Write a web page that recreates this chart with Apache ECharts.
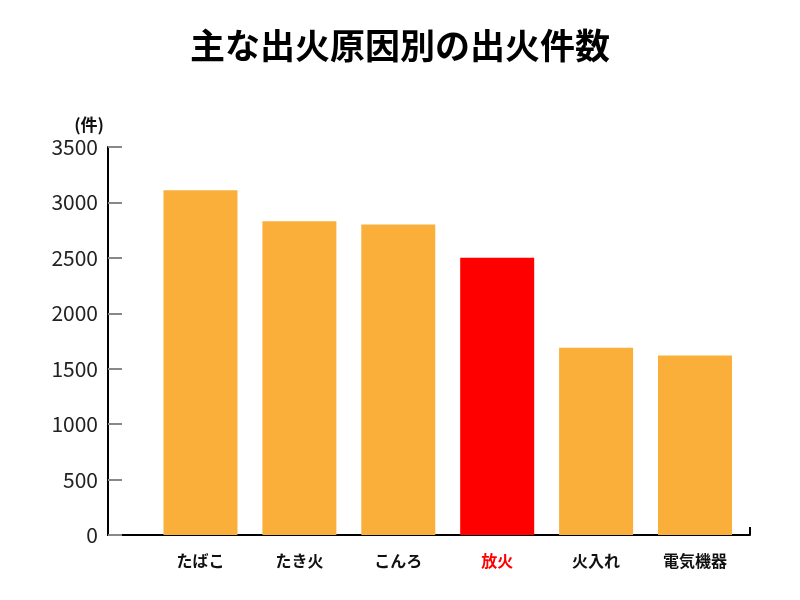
<!DOCTYPE html>
<html>
<head>
<meta charset="utf-8">
<script src="https://cdn.jsdelivr.net/npm/echarts@6/dist/echarts.min.js"></script>
<style>html,body{margin:0;padding:0;background:#fff}#c{width:800px;height:600px}</style>
</head>
<body>
<div id="c"></div>
<script>
var titleText = '主な出火原因別の出火件数';
var categories = ['たばこ', 'たき火', 'こんろ', '放火', '火入れ', '電気機器'];
var values = [3110, 2830, 2800, 2500, 1690, 1620];
var highlightIndex = 3;
var yTicks = [0, 500, 1000, 1500, 2000, 2500, 3000, 3500];
var unitLabel = '(件)';

var FONT = '"Noto Sans CJK JP", "Noto Sans", sans-serif';
var ORANGE = '#FAAF3B', RED = '#FF0000';
var xMin = -0.935, xMax = 5.556;

var chart = echarts.init(document.getElementById('c'), null, {renderer: 'canvas'});
chart.setOption({
  animation: false,
  backgroundColor: '#fff',
  title: {
    text: titleText, left: 'center', top: 23,
    textStyle: {fontFamily: FONT, fontSize: 35, fontWeight: 'bold', color: '#000'}
  },
  grid: {left: 108, right: 50, top: 147, bottom: 65, containLabel: false},
  xAxis: {
    type: 'value', min: xMin, max: xMax,
    splitLine: {show: false},
    axisLine: {show: true, onZero: false, lineStyle: {color: '#000', width: 2}},
    axisTick: {show: true, inside: true, length: 8, customValues: [xMax], lineStyle: {color: '#000', width: 2}},
    axisLabel: {
      customValues: categories.map(function (c, i) { return i; }),
      margin: 18,
      fontFamily: FONT, fontSize: 16, fontWeight: 'bold', color: '#111',
      formatter: function (v) {
        var i = Math.round(v);
        return i === highlightIndex ? '{r|' + categories[i] + '}' : categories[i];
      },
      rich: {r: {color: RED, fontFamily: FONT, fontSize: 16, fontWeight: 'bold'}}
    }
  },
  yAxis: {
    type: 'value', min: yTicks[0], max: yTicks[yTicks.length - 1], interval: 500,
    name: unitLabel, nameLocation: 'end', nameGap: 14,
    nameTextStyle: {fontFamily: FONT, fontSize: 17, fontWeight: 'bold', color: '#111', align: 'right', padding: [0, 4, 0, 0]},
    splitLine: {show: false},
    axisLine: {show: true, onZero: false, lineStyle: {color: '#000', width: 2}},
    axisTick: {show: true, inside: true, length: 14, lineStyle: {color: '#888', width: 2}},
    axisLabel: {fontFamily: FONT, fontSize: 21, color: '#222', margin: 10,
      formatter: function (v) { return String(v); }}
  },
  series: [{
    type: 'bar', barWidth: 74,
    data: values.map(function (v, i) {
      return {value: [i, v], itemStyle: {color: i === highlightIndex ? RED : ORANGE}};
    })
  }]
});
</script>
</body>
</html>
